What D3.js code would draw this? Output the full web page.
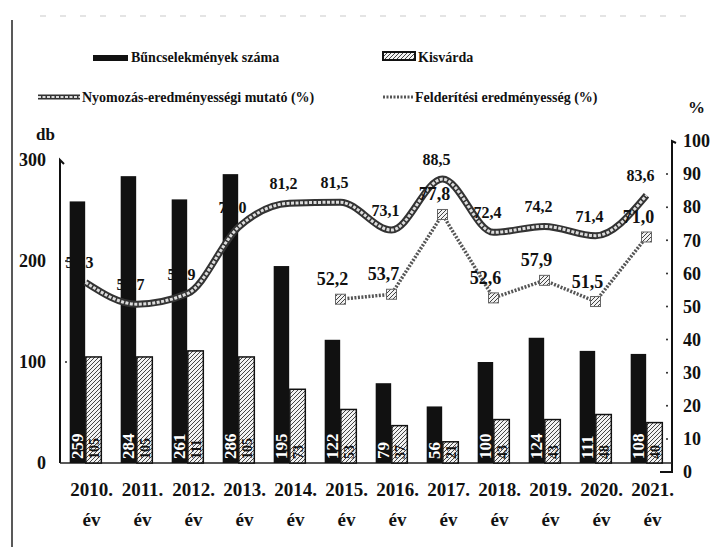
<!DOCTYPE html>
<html>
<head>
<meta charset="utf-8">
<script src="https://cdn.jsdelivr.net/npm/d3@7"></script>
<style>
  body { margin: 0; background: #fff; }
  text { font-family: "Liberation Serif", "DejaVu Serif", serif; font-weight: bold; fill: #111; }
</style>
</head>
<body>
<div id="chart-area"></div>
<script>
// data
var years = ["2010", "2011", "2012", "2013", "2014", "2015", "2016", "2017", "2018", "2019", "2020", "2021"];
var crimes = [259, 284, 261, 286, 195, 122, 79, 56, 100, 124, 111, 108];
var kisvarda = [105, 105, 111, 105, 73, 53, 37, 21, 43, 43, 48, 40];
var nyomozas = [57.3, 50.7, 53.9, 74.0, 81.2, 81.5, 73.1, 88.5, 72.4, 74.2, 71.4, 83.6];
var felderites = [null, null, null, null, null, 52.2, 53.7, 77.8, 52.6, 57.9, 51.5, 71.0];
var leftTicks = [0, 100, 200, 300];
var rightTicks = [0, 10, 20, 30, 40, 50, 60, 70, 80, 90, 100];

var width = 715, height = 547;

var svg = d3.select("#chart-area")
    .append("svg")
    .attr("width", width)
    .attr("height", height);

// pattern for the Kisvárda bars
var defs = svg.append("defs");
var pat = defs.append("pattern")
    .attr("id", "hatch")
    .attr("width", 4).attr("height", 4)
    .attr("patternUnits", "userSpaceOnUse");
pat.append("rect").attr("width", 4).attr("height", 4).attr("fill", "#f2f2f2");
pat.append("path").attr("d", "M0,4 L4,0").attr("stroke", "#444").attr("stroke-width", 1);

// page frame bits from the scan
svg.append("line")
    .attr("x1", 12).attr("x2", 12).attr("y1", 20).attr("y2", height)
    .attr("stroke", "#222").attr("stroke-width", 1.5);
svg.append("line")
    .attr("x1", 40).attr("x2", 690).attr("y1", 16).attr("y2", 16)
    .attr("stroke", "#bbb").attr("stroke-width", 0.8).attr("stroke-dasharray", "6,14");

var x = d3.scaleBand()
    .domain(years)
    .range([60, 672]);

var x1 = d3.scaleBand()
    .domain(["crimes", "kisvarda"])
    .range([0, x.bandwidth()])
    .paddingInner(0.04)
    .paddingOuter(0.6);

var yL = d3.scaleLinear().domain([0, 300]).range([463, 160]);
var yR = d3.scaleLinear().domain([0, 100]).range([472, 141]);

// left axis
var leftAxis = d3.axisLeft(yL).tickValues(leftTicks).tickSize(0).tickPadding(14);
var lG = svg.append("g").attr("transform", "translate(60,0)").call(leftAxis);
lG.select(".domain").remove();
lG.selectAll("text").attr("font-size", "18px").attr("font-family", "Liberation Serif").attr("font-weight", "bold").attr("fill", "#111");
svg.append("path")
    .attr("d", "M64," + (yL(300) + 4) + " L60," + yL(300) + " L60," + yL(0))
    .attr("fill", "none").attr("stroke", "#111").attr("stroke-width", 2);
svg.selectAll(".ldot")
    .data([100, 200])
    .enter().append("circle")
    .attr("cx", 66).attr("cy", function (d) { return yL(d); })
    .attr("r", 1).attr("fill", "#222");

// right axis
var rightAxis = d3.axisRight(yR).tickValues(rightTicks).tickSize(0).tickPadding(11);
var rG = svg.append("g").attr("transform", "translate(672,0)").call(rightAxis);
rG.select(".domain").remove();
rG.selectAll("text").attr("font-size", "18px").attr("font-family", "Liberation Serif").attr("font-weight", "bold").attr("fill", "#111");
svg.append("path")
    .attr("d", "M676," + (yR(100) + 2) + " L672," + yR(100) + " L672," + yR(0) + " L660," + yR(0))
    .attr("fill", "none").attr("stroke", "#111").attr("stroke-width", 2);
svg.selectAll(".rdot")
    .data(rightTicks.slice(1, 10))
    .enter().append("circle")
    .attr("cx", 667).attr("cy", function (d) { return yR(d); })
    .attr("r", 1).attr("fill", "#222");

// axis titles
svg.append("text").attr("x", 36).attr("y", 140).attr("font-size", "17px").text("db");
svg.append("text").attr("x", 688).attr("y", 113).attr("font-size", "17px").text("%");

// baseline
svg.append("line")
    .attr("x1", 60).attr("x2", 672).attr("y1", 463).attr("y2", 463)
    .attr("stroke", "#222").attr("stroke-width", 1.5);

// x labels
var xLab = svg.append("g").selectAll("g")
    .data(years)
    .enter().append("g")
    .attr("transform", function (d) { return "translate(" + (x(d) + x.bandwidth() / 2 + 6) + ",0)"; });
xLab.append("text").attr("y", 496).attr("text-anchor", "middle").attr("font-size", "19px")
    .text(function (d) { return d + "."; });
xLab.append("text").attr("y", 526).attr("text-anchor", "middle").attr("font-size", "19px")
    .text("év");

// bars
var rows = years.map(function (d, i) {
    return { year: d, crimes: crimes[i], kisvarda: kisvarda[i] };
});

svg.append("g").selectAll("rect")
    .data(rows)
    .enter().append("rect")
    .attr("x", function (d) { return x(d.year) + x1("crimes"); })
    .attr("y", function (d) { return yL(d.crimes); })
    .attr("width", x1.bandwidth())
    .attr("height", function (d) { return yL(0) - yL(d.crimes); })
    .attr("fill", "#111");

svg.append("g").selectAll("rect")
    .data(rows)
    .enter().append("rect")
    .attr("x", function (d) { return x(d.year) + x1("kisvarda"); })
    .attr("y", function (d) { return yL(d.kisvarda); })
    .attr("width", x1.bandwidth())
    .attr("height", function (d) { return yL(0) - yL(d.kisvarda); })
    .attr("fill", "url(#hatch)")
    .attr("stroke", "#111").attr("stroke-width", 1.5);

// bar value labels, rotated to read upward
svg.append("g").selectAll("text")
    .data(rows)
    .enter().append("text")
    .attr("transform", function (d) {
        return "translate(" + (x(d.year) + x1("crimes") + x1.bandwidth() / 2 + 6) + ",459) rotate(-90)";
    })
    .attr("font-size", "17px")
    .style("fill", "#fff")
    .text(function (d) { return d.crimes; });

svg.append("g").selectAll("text")
    .data(rows)
    .enter().append("text")
    .attr("transform", function (d) {
        return "translate(" + (x(d.year) + x1("kisvarda") + x1.bandwidth() / 2 + 5) + ",459) rotate(-90)";
    })
    .attr("font-size", "14px")
    .text(function (d) { return d.kisvarda; });

// lines
var nyPts = years.map(function (d, i) { return { year: d, v: nyomozas[i] }; });
var fePts = years.map(function (d, i) { return { year: d, v: felderites[i] }; })
    .filter(function (d) { return d.v !== null; });

var cx = function (d) { return x(d.year) + x.bandwidth() / 2; };

var nyLine = d3.line()
    .x(cx)
    .y(function (d) { return yR(d.v); })
    .curve(d3.curveMonotoneX);

var feLine = d3.line()
    .x(cx)
    .y(function (d) { return yR(d.v); });

svg.append("path").datum(nyPts).attr("d", nyLine)
    .attr("fill", "none").attr("stroke", "#333").attr("stroke-width", 7);
svg.append("path").datum(nyPts).attr("d", nyLine)
    .attr("fill", "none").attr("stroke", "#ddd").attr("stroke-width", 3)
    .attr("stroke-dasharray", "3,1.5");

svg.append("path").datum(fePts).attr("d", feLine)
    .attr("fill", "none").attr("stroke", "#555").attr("stroke-width", 3.5)
    .attr("stroke-dasharray", "2,1.5");
svg.append("g").selectAll("rect")
    .data(fePts)
    .enter().append("rect")
    .attr("x", function (d) { return cx(d) - 5; })
    .attr("y", function (d) { return yR(d.v) - 5; })
    .attr("width", 10).attr("height", 10)
    .attr("fill", "url(#hatch)").attr("stroke", "#666").attr("stroke-width", 1);

// value labels
svg.append("g").selectAll("text")
    .data(nyPts)
    .enter().append("text")
    .attr("x", function (d) { return cx(d) - 6; })
    .attr("y", function (d) { return yR(d.v) - 14; })
    .attr("text-anchor", "middle")
    .attr("font-size", "16px")
    .text(function (d) { return d3.format(".1f")(d.v).replace(".", ","); });

svg.append("g").selectAll("text")
    .data(fePts)
    .enter().append("text")
    .attr("x", function (d) { return cx(d) - 8; })
    .attr("y", function (d) { return yR(d.v) - 14; })
    .attr("text-anchor", "middle")
    .attr("font-size", "18px")
    .text(function (d) { return d3.format(".1f")(d.v).replace(".", ","); });

// legend
var lg = svg.append("g");
lg.append("rect").attr("x", 93).attr("y", 55).attr("width", 35).attr("height", 6).attr("fill", "#111");
lg.append("text").attr("x", 131).attr("y", 62).attr("font-size", "14px").text("Bűncselekmények száma");
lg.append("rect").attr("x", 383).attr("y", 52).attr("width", 32).attr("height", 8)
    .attr("fill", "url(#hatch)").attr("stroke", "#111").attr("stroke-width", 2);
lg.append("text").attr("x", 418).attr("y", 62).attr("font-size", "14px").text("Kisvárda");

lg.append("line").attr("x1", 38).attr("x2", 80).attr("y1", 97).attr("y2", 97)
    .attr("stroke", "#333").attr("stroke-width", 5);
lg.append("line").attr("x1", 38).attr("x2", 80).attr("y1", 97).attr("y2", 97)
    .attr("stroke", "#ddd").attr("stroke-width", 2).attr("stroke-dasharray", "3,1.5");
lg.append("text").attr("x", 82).attr("y", 102).attr("font-size", "14px").text("Nyomozás-eredményességi mutató (%)");
lg.append("line").attr("x1", 383).attr("x2", 413).attr("y1", 97).attr("y2", 97)
    .attr("stroke", "#555").attr("stroke-width", 3).attr("stroke-dasharray", "2,1.5");
lg.append("text").attr("x", 415).attr("y", 102).attr("font-size", "14px").text("Felderítési eredményesség (%)");
</script>
</body>
</html>
